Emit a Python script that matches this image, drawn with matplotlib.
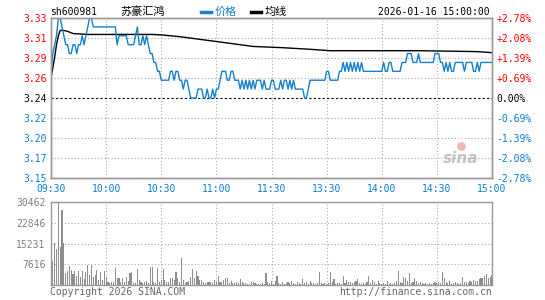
"""
Intraday minute chart (sh600981) - price, average line and volume
"""
import numpy as np
import matplotlib
matplotlib.use("Agg")
import matplotlib.pyplot as plt
from matplotlib.lines import Line2D

plt.rcParams['font.family'] = ['DejaVu Sans Mono', 'Noto Sans CJK SC']

# ---- data ----
prev_close = 3.24
price = [
    3.27, 3.29, 3.30, 3.31, 3.33, 3.33, 3.32, 3.31, 3.30, 3.30,
    3.29, 3.29, 3.30, 3.30, 3.29, 3.30, 3.30, 3.31, 3.30, 3.31,
    3.32, 3.33, 3.33, 3.32, 3.32, 3.32, 3.32, 3.32, 3.32, 3.32,
    3.32, 3.32, 3.32, 3.32, 3.32, 3.32, 3.30, 3.31, 3.31, 3.31,
    3.31, 3.31, 3.30, 3.30, 3.30, 3.30, 3.31, 3.32, 3.30, 3.30,
    3.31, 3.30, 3.31, 3.30, 3.29, 3.29, 3.28, 3.28, 3.27, 3.27,
    3.26, 3.26, 3.26, 3.26, 3.26, 3.27, 3.27, 3.26, 3.27, 3.27,
    3.26, 3.26, 3.25, 3.26, 3.26, 3.25, 3.24, 3.24, 3.24, 3.24,
    3.25, 3.25, 3.25, 3.24, 3.24, 3.25, 3.24, 3.24, 3.25, 3.24,
    3.25, 3.25, 3.26, 3.27, 3.27, 3.27, 3.26, 3.26, 3.27, 3.27,
    3.26, 3.26, 3.26, 3.25, 3.26, 3.25, 3.26, 3.25, 3.26, 3.25,
    3.26, 3.25, 3.26, 3.26, 3.26, 3.25, 3.26, 3.25, 3.25, 3.25,
    3.26, 3.26, 3.25, 3.25, 3.25, 3.26, 3.25, 3.26, 3.26, 3.25,
    3.26, 3.25, 3.26, 3.25, 3.25, 3.25, 3.25, 3.25, 3.24, 3.24,
    3.25, 3.26, 3.26, 3.26, 3.26, 3.26, 3.26, 3.26, 3.26, 3.26,
    3.27, 3.27, 3.26, 3.26, 3.26, 3.26, 3.26, 3.27, 3.27, 3.28,
    3.27, 3.28, 3.27, 3.28, 3.27, 3.28, 3.27, 3.28, 3.27, 3.28,
    3.27, 3.27, 3.27, 3.27, 3.27, 3.27, 3.27, 3.27, 3.27, 3.27,
    3.27, 3.28, 3.27, 3.27, 3.28, 3.28, 3.27, 3.27, 3.27, 3.27,
    3.27, 3.28, 3.28, 3.28, 3.29, 3.29, 3.29, 3.28, 3.28, 3.28,
    3.29, 3.28, 3.28, 3.28, 3.28, 3.28, 3.28, 3.28, 3.28, 3.29,
    3.29, 3.29, 3.28, 3.28, 3.27, 3.28, 3.27, 3.28, 3.27, 3.27,
    3.28, 3.28, 3.28, 3.28, 3.28, 3.27, 3.28, 3.28, 3.28, 3.28,
    3.27, 3.27, 3.28, 3.27, 3.28, 3.28, 3.28, 3.28, 3.28, 3.28,
    3.28,
]

# average line, read at a few minutes
avg_min = [0, 1, 2, 3, 4, 5, 7, 9, 12, 20, 55, 60, 70, 81, 92, 110,
           126, 141, 152, 200, 232, 240]
avg_val = [3.263, 3.274, 3.286, 3.300, 3.310, 3.316, 3.316, 3.315, 3.3125,
           3.3115, 3.3115, 3.311, 3.309, 3.306, 3.303, 3.298, 3.2966,
           3.2948, 3.2932, 3.2932, 3.2922, 3.291]

volume = [
    2900, 8900, 15300, 13200, 30462, 13800, 27400, 15300, 4400, 5200,
    7000, 5600, 4100, 5300, 3400, 5200, 2900, 5300, 2200, 4600,
    7400, 3800, 7400, 2900, 3800, 5600, 1900, 4600, 1900, 5000,
    3000, 970, 600, 970, 1210, 6070, 2430, 2430, 970, 2430,
    970, 3040, 1460, 4250, 4860, 600, 730, 5830, 1820, 1210,
    600, 970, 1460, 600, 6430, 6680, 970, 600, 6310, 1210,
    1820, 5830, 1820, 1210, 970, 2670, 2670, 1820, 4610, 2430,
    970, 9950, 1820, 600, 970, 1460, 3040, 5830, 2670, 5100,
    3400, 1820, 1820, 970, 600, 1210, 970, 1210, 600, 1820,
    970, 3400, 1210, 970, 1820, 2430, 2430, 600, 1460, 600,
    600, 970, 600, 2190, 970, 600, 600, 360, 360, 970,
    970, 600, 360, 360, 360, 600, 360, 4250, 970, 600,
    1460, 360, 1460, 3400, 600, 360, 970, 360, 600, 970,
    600, 1460, 600, 360, 970, 600, 360, 2190, 600, 970,
    360, 1460, 600, 600, 360, 600, 4610, 600, 360, 600,
    360, 600, 4860, 970, 2190, 360, 600, 600, 360, 3400,
    600, 1820, 970, 970, 600, 970, 1460, 2190, 600, 360,
    600, 360, 970, 3400, 600, 1820, 970, 360, 1460, 600,
    360, 600, 360, 1460, 360, 600, 360, 600, 1460, 5100,
    970, 600, 3040, 2670, 1460, 4490, 600, 970, 2670, 1460,
    600, 970, 600, 360, 600, 360, 600, 360, 600, 970,
    600, 970, 600, 4860, 2670, 970, 600, 1460, 360, 600,
    970, 600, 360, 600, 3040, 970, 970, 600, 1460, 970,
    1820, 1460, 1460, 2190, 2430, 2670, 3400, 3880, 2670, 3040,
    3640,
]

price_ticks = [3.33, 3.3075, 3.285, 3.2625, 3.24, 3.2175, 3.195, 3.1725, 3.15]
price_labels = ['3.33', '3.31', '3.29', '3.26', '3.24', '3.22', '3.20', '3.17', '3.15']
pct_labels = ['+2.78%', '+2.08%', '+1.39%', '+0.69%', '0.00%',
              '-0.69%', '-1.39%', '-2.08%', '-2.78%']
time_ticks = [0, 30, 60, 90, 120, 150, 180, 210, 240]
time_labels = ['09:30', '10:00', '10:30', '11:00', '11:30',
               '13:30', '14:00', '14:30', '15:00']
vol_ticks = [7616, 15231, 22846, 30462]
vol_labels = ['7616', '15231', '22846', '30462']

RED = '#ff0000'
BLUE = '#0a7fd0'
GREY = '#999999'
LINE_BLUE = '#1580cc'

minutes = np.arange(len(price))

fig = plt.figure(figsize=(5.45, 3.0), dpi=100)
ax = fig.add_axes([51 / 545, 1 - 178 / 300, 441 / 545, 160 / 300])
axv = fig.add_axes([51 / 545, 1 - 285 / 300, 441 / 545, 83 / 300])

grid_kw = dict(color='#aaaaaa', linewidth=0.8, linestyle=(0, (1, 2)))

# ---- price panel ----
ax.set_xlim(0, 240)
ax.set_ylim(3.15, 3.33)
for t in time_ticks[1:-1]:
    ax.axvline(t, **grid_kw, zorder=1)
for p in price_ticks[1:-1]:
    if p == prev_close:
        ax.axhline(p, color='black', linewidth=0.8, linestyle=(0, (2, 2)), zorder=1)
    else:
        ax.axhline(p, **grid_kw, zorder=1)

ax.plot(minutes, price, color=LINE_BLUE, linewidth=1.0, zorder=3)
ax.plot(avg_min, avg_val, color='black', linewidth=1.0, zorder=2)

ax.set_yticks(price_ticks)
ax.set_yticklabels(price_labels)
ax.set_xticks(time_ticks)
ax.set_xticklabels(time_labels)
ax.tick_params(length=0, labelsize=7, pad=3)
ax.tick_params(axis='x', colors=BLUE, pad=4)
for lbl, p in zip(ax.get_yticklabels(), price_ticks):
    lbl.set_color(RED if p > prev_close else ('black' if p == prev_close else BLUE))

axr = ax.twinx()
axr.set_ylim(ax.get_ylim())
axr.set_yticks(price_ticks)
axr.set_yticklabels(pct_labels)
axr.tick_params(length=0, labelsize=7, pad=3)
for lbl, p in zip(axr.get_yticklabels(), price_ticks):
    lbl.set_color(RED if p > prev_close else ('black' if p == prev_close else BLUE))

for a in (ax, axr):
    for s in a.spines.values():
        s.set_color(GREY)
        s.set_linewidth(1.0)

# sina watermark
ax.text(0.97, 0.12, 'sina', transform=ax.transAxes, ha='right', va='center',
        fontsize=11, fontstyle='italic', fontweight='bold',
        family='DejaVu Sans', color='#c4c4c4', zorder=0)
ax.scatter([0.93], [0.2], transform=ax.transAxes, s=40, color='#f0b8b8',
           zorder=0, linewidths=0)

# ---- volume panel ----
axv.set_xlim(0, 240)
axv.set_ylim(0, 30462)
for t in time_ticks[1:-1]:
    axv.axvline(t, **grid_kw, zorder=1)
for v in vol_ticks[:-1]:
    axv.axhline(v, **grid_kw, zorder=1)
axv.bar(minutes, volume, width=0.6, color='#8e8e8e', linewidth=0, zorder=2)
axv.set_yticks(vol_ticks)
axv.set_yticklabels(vol_labels)
axv.set_xticks([])
axv.tick_params(length=0, labelsize=7, pad=4, colors='#808080')
for s in axv.spines.values():
    s.set_color(GREY)
    s.set_linewidth(1.0)

# ---- header and footer text ----
ty = 1 - 12 / 300
fig.text(50 / 545, ty, 'sh600981', fontsize=7, va='center', ha='left')
fig.text(120 / 545, ty, '苏豪汇鸿', fontsize=8, va='center', ha='left',
         family=['Noto Sans CJK SC'])
fig.add_artist(Line2D([201 / 545, 211 / 545], [ty, ty], color=LINE_BLUE,
                      linewidth=2.5, transform=fig.transFigure))
fig.text(215 / 545, ty, '价格', fontsize=8, va='center', ha='left',
         color=LINE_BLUE, family=['Noto Sans CJK SC'])
fig.add_artist(Line2D([251 / 545, 261 / 545], [ty, ty], color='black',
                      linewidth=2.5, transform=fig.transFigure))
fig.text(265 / 545, ty, '均线', fontsize=8, va='center', ha='left',
         family=['Noto Sans CJK SC'])
fig.text(490 / 545, ty, '2026-01-16 15:00:00', fontsize=7, va='center', ha='right')

fy = 1 - 292 / 300
fig.text(50 / 545, fy, 'Copyright 2026 SINA.COM', fontsize=7, va='center',
         ha='left', color='#666666')
fig.text(492 / 545, fy, 'http://finance.sina.com.cn', fontsize=7, va='center',
         ha='right', color='#666666')

fig.savefig('out.png', dpi=100, facecolor='white')
